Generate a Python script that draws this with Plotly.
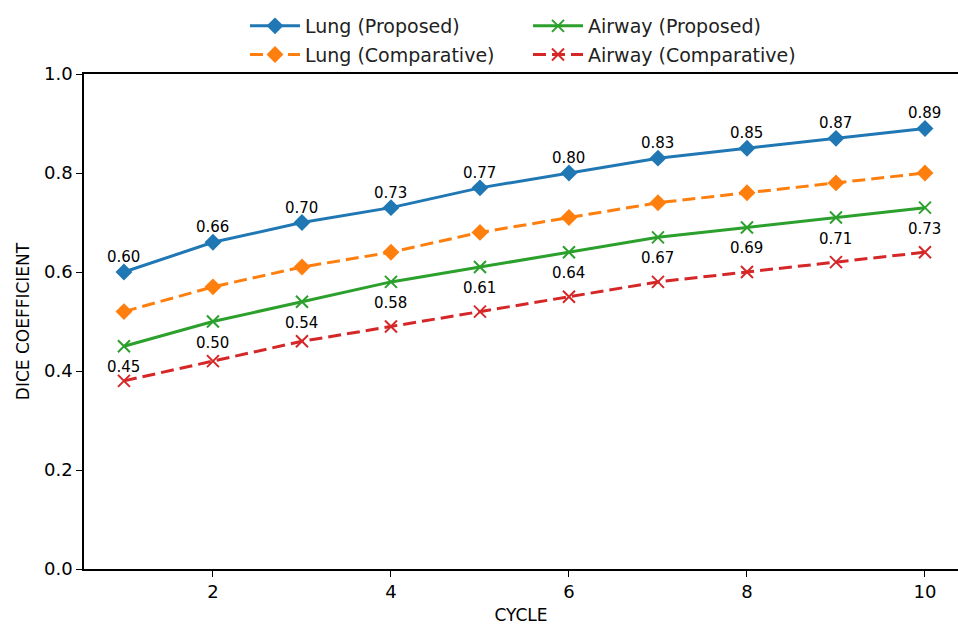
import plotly.graph_objects as go

cycles = [1, 2, 3, 4, 5, 6, 7, 8, 9, 10]
lung_proposed = [0.60, 0.66, 0.70, 0.73, 0.77, 0.80, 0.83, 0.85, 0.87, 0.89]
lung_comparative = [0.52, 0.57, 0.61, 0.64, 0.68, 0.71, 0.74, 0.76, 0.78, 0.80]
airway_proposed = [0.45, 0.50, 0.54, 0.58, 0.61, 0.64, 0.67, 0.69, 0.71, 0.73]
airway_comparative = [0.38, 0.42, 0.46, 0.49, 0.52, 0.55, 0.58, 0.60, 0.62, 0.64]
x_ticks = [2, 4, 6, 8, 10]
y_ticks = [0.0, 0.2, 0.4, 0.6, 0.8, 1.0]

FONT = "DejaVu Sans"
BLUE, ORANGE, GREEN, RED = "#1f77b4", "#ff7f0e", "#2ca02c", "#d62728"
DASH = "13px,6px"

fig = go.Figure()

def add(y, name, color, symbol, dash, legend, size, mline):
    fig.add_trace(go.Scatter(
        x=cycles, y=y, name=name, mode="lines+markers",
        line=dict(color=color, width=3, dash=dash),
        marker=dict(symbol=symbol, size=size, color=color,
                    line=dict(color=color, width=mline)),
        legend=legend, legendgroup=name,
    ))

add(lung_proposed, "Lung (Proposed)", BLUE, "diamond", "solid", "legend", 13, 0)
add(lung_comparative, "Lung (Comparative)", ORANGE, "diamond", DASH, "legend", 13, 0)
add(airway_proposed, "Airway (Proposed)", GREEN, "x-thin", "solid", "legend2", 12, 2)
add(airway_comparative, "Airway (Comparative)", RED, "x-thin", DASH, "legend2", 12, 2)

for xv, yv in zip(cycles, lung_proposed):
    fig.add_annotation(x=xv, y=yv, text=f"{yv:.2f}", showarrow=False,
                       yshift=15, font=dict(family=FONT, size=15, color="#000"))
for xv, yv in zip(cycles, airway_proposed):
    fig.add_annotation(x=xv, y=yv, text=f"{yv:.2f}", showarrow=False,
                       yshift=-21, font=dict(family=FONT, size=15, color="#000"))

legend_common = dict(
    orientation="v", yanchor="top", xanchor="left",
    font=dict(family=FONT, size=19, color="#222"),
    bgcolor="rgba(0,0,0,0)", tracegroupgap=1, itemwidth=50,
)
LEG_Y = 1.0 + (74 - 7) / 495

fig.update_layout(
    width=958, height=625,
    margin=dict(l=84, r=0, t=74, b=56),
    paper_bgcolor="white", plot_bgcolor="white",
    font=dict(family=FONT, size=18, color="#000"),
    showlegend=True,
    legend=dict(x=(245 - 84) / 874, y=LEG_Y, yref="paper", **legend_common),
    legend2=dict(x=(528 - 84) / 874, y=LEG_Y, yref="paper", **legend_common),
    xaxis=dict(
        range=[0.551, 10.371], tickvals=x_ticks, ticktext=[str(v) for v in x_ticks],
        showline=True, linecolor="#000", linewidth=1.5, mirror=True,
        ticks="outside", ticklen=6, tickwidth=1.2, tickcolor="#000",
        showgrid=False, zeroline=False,
        tickfont=dict(family=FONT, size=18),
        title=dict(text="CYCLE", font=dict(family=FONT, size=17), standoff=8),
    ),
    yaxis=dict(
        range=[0, 1.0], tickvals=y_ticks, ticktext=[f"{v:.1f}" for v in y_ticks],
        showline=True, linecolor="#000", linewidth=1.5, mirror=False,
        ticks="outside", ticklen=6, tickwidth=1.2, tickcolor="#000",
        showgrid=False, zeroline=False,
        tickfont=dict(family=FONT, size=18),
        title=dict(text="DICE COEFFICIENT", font=dict(family=FONT, size=17), standoff=10),
    ),
)

fig.write_html("out.html")
